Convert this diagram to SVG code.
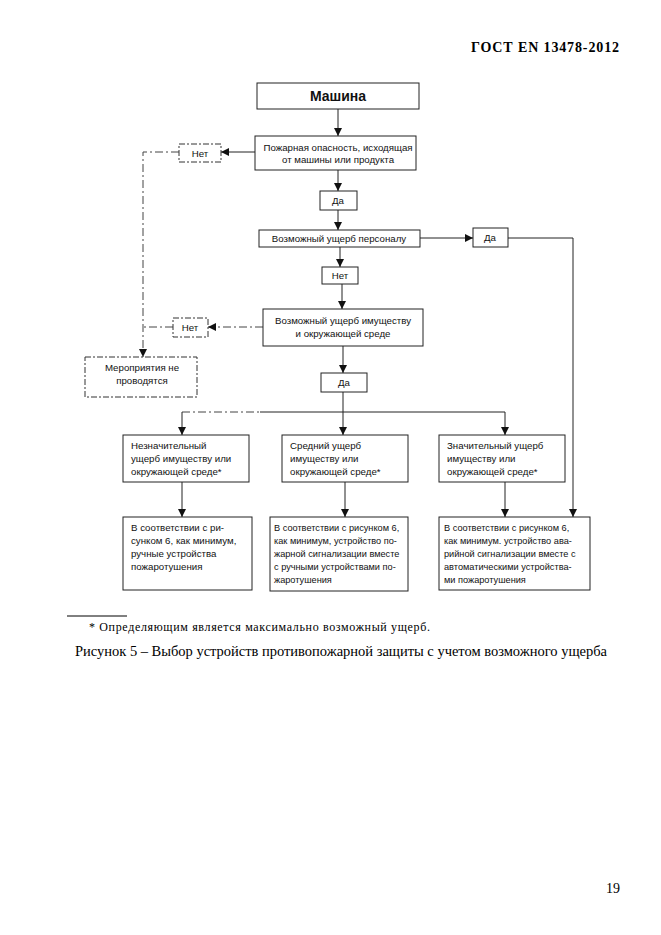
<svg xmlns="http://www.w3.org/2000/svg" width="661" height="935" viewBox="0 0 661 935">
<defs>
<style>
.b{fill:#fff;stroke:#222;stroke-width:1}
.d{fill:#fff;stroke:#333;stroke-width:1;stroke-dasharray:6 2 2 2}
.t{font-family:"Liberation Sans",Arial,sans-serif;font-size:9.7px;fill:#111}
.sm{font-size:9.2px}
.c{text-anchor:middle}
.l{stroke:#222;stroke-width:1;fill:none}
.dl{stroke:#444;stroke-width:1;fill:none;stroke-dasharray:8 3 2 3}
.s{font-family:"Liberation Serif","Times New Roman",serif;fill:#000}
</style>
<marker id="a" viewBox="0 0 10 10" refX="10" refY="5" markerWidth="8" markerHeight="8" orient="auto" markerUnits="userSpaceOnUse"><path d="M0,0L10,5L0,10z" fill="#111"/></marker>
</defs>
<rect width="661" height="935" fill="#fff"/>
<text class="s" x="471" y="52" font-size="14" font-weight="bold" textLength="148">ГОСТ EN 13478-2012</text>

<g id="connectors">
<path class="l" d="M338,109V136" marker-end="url(#a)"/>
<path class="l" d="M255,152H221" marker-end="url(#a)"/>
<path class="dl" d="M179,152H143V357" marker-end="url(#a)"/>
<path class="l" d="M338,170V191" marker-end="url(#a)"/>
<path class="l" d="M338,210V230" marker-end="url(#a)"/>
<path class="l" d="M420,238H473" marker-end="url(#a)"/>
<path class="l" d="M508,238H573V517" marker-end="url(#a)"/>
<path class="l" d="M340,247V267" marker-end="url(#a)"/>
<path class="l" d="M342,284V309" marker-end="url(#a)"/>
<path class="dl" d="M263,327H208" marker-end="url(#a)"/>
<path class="dl" d="M173,327H143"/>
<path class="l" d="M343,346V373" marker-end="url(#a)"/>
<path class="l" d="M343,392V435" marker-end="url(#a)"/>
<path class="dl" d="M182,412H260"/>
<path class="l" d="M260,412H505V435" marker-end="url(#a)"/>
<path class="l" d="M182,412V435" marker-end="url(#a)"/>
<path class="l" d="M182,482V517" marker-end="url(#a)"/>
<path class="l" d="M345,482V517" marker-end="url(#a)"/>
<path class="l" d="M505,482V517" marker-end="url(#a)"/>
</g>

<g id="n-mashina"><rect class="b" x="257" y="83" width="162" height="26"/><text class="t c" x="338" y="101" style="font-size:14px" font-weight="bold">Машина</text></g>
<g id="n-hazard"><rect class="b" x="255" y="136" width="161" height="34"/><text class="t c" x="338" y="151">Пожарная опасность, исходящая</text><text class="t c" x="338" y="163">от машины или продукта</text></g>
<g id="n-net1"><rect class="d" x="179" y="144" width="42" height="18"/><text class="t c" x="200" y="157">Нет</text></g>
<g id="n-da1"><rect class="b" x="320" y="191" width="37" height="19"/><text class="t c" x="338" y="204">Да</text></g>
<g id="n-personnel"><rect class="b" x="259" y="230" width="161" height="17"/><text class="t c" x="339" y="242">Возможный ущерб персоналу</text></g>
<g id="n-da2"><rect class="b" x="473" y="228" width="35" height="19"/><text class="t c" x="490" y="241">Да</text></g>
<g id="n-net2"><rect class="b" x="322" y="267" width="36" height="17"/><text class="t c" x="340" y="279">Нет</text></g>
<g id="n-property"><rect class="b" x="263" y="309" width="160" height="37"/><text class="t c" x="343" y="324">Возможный ущерб имуществу</text><text class="t c" x="343" y="337">и окружающей среде</text></g>
<g id="n-net3"><rect class="d" x="173" y="318" width="35" height="19"/><text class="t c" x="190" y="331">Нет</text></g>
<g id="n-none"><rect class="d" x="85" y="357" width="112" height="40"/><text class="t c" x="142" y="371">Мероприятия не</text><text class="t c" x="142" y="384">проводятся</text></g>
<g id="n-da3"><rect class="b" x="321" y="373" width="46" height="19"/><text class="t c" x="344" y="386">Да</text></g>

<g id="n-low"><rect class="b" x="123" y="435" width="126" height="47"/><text class="t" x="131" y="449">Незначительный</text><text class="t" x="131" y="462">ущерб имуществу или</text><text class="t" x="131" y="475">окружающей среде*</text></g>
<g id="n-mid"><rect class="b" x="282" y="435" width="126" height="47"/><text class="t" x="290" y="449">Средний ущерб</text><text class="t" x="290" y="462">имуществу или</text><text class="t" x="290" y="475">окружающей среде*</text></g>
<g id="n-high"><rect class="b" x="439" y="435" width="126" height="47"/><text class="t" x="447" y="449">Значительный ущерб</text><text class="t" x="447" y="462">имуществу или</text><text class="t" x="447" y="475">окружающей среде*</text></g>

<g id="n-r1"><rect class="b" x="123" y="517" width="129" height="73"/><text class="t" x="131" y="531">В соответствии с ри-</text><text class="t" x="131" y="544">сунком 6, как минимум,</text><text class="t" x="131" y="557">ручные устройства</text><text class="t" x="131" y="570">пожаротушения</text></g>
<g id="n-r2"><rect class="b" x="270" y="517" width="138" height="74"/><text class="t sm" x="274" y="531">В соответствии с рисунком 6,</text><text class="t sm" x="274" y="544">как минимум, устройство по-</text><text class="t sm" x="274" y="557">жарной сигнализации вместе</text><text class="t sm" x="274" y="570">с ручными устройствами по-</text><text class="t sm" x="274" y="583">жаротушения</text></g>
<g id="n-r3"><rect class="b" x="439" y="517" width="151" height="73"/><text class="t sm" x="444" y="531">В соответствии с рисунком 6,</text><text class="t sm" x="444" y="544">как минимум. устройство ава-</text><text class="t sm" x="444" y="557">рийной сигнализации вместе с</text><text class="t sm" x="444" y="570">автоматическими устройства-</text><text class="t sm" x="444" y="583">ми пожаротушения</text></g>

<line x1="67" y1="616" x2="127" y2="616" stroke="#000" stroke-width="1"/>
<text class="s" x="89" y="631" font-size="12" textLength="341">* Определяющим является максимально возможный ущерб.</text>
<text class="s" x="75" y="656" font-size="14.5" textLength="532">Рисунок 5 – Выбор устройств противопожарной защиты с учетом возможного ущерба</text>
<text class="s" x="606" y="893" font-size="14">19</text>
</svg>
